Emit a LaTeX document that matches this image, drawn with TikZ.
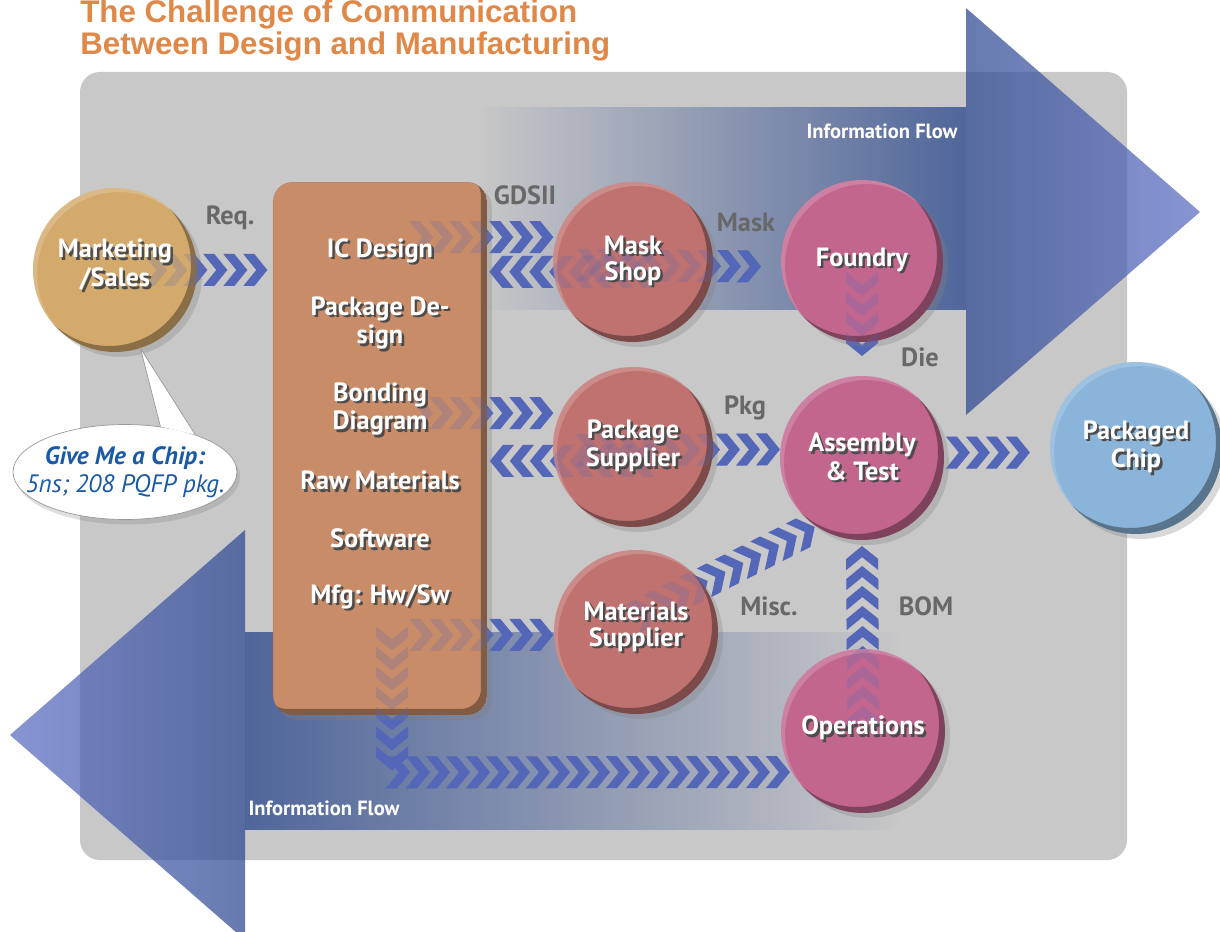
\documentclass[tikz,border=0pt]{standalone}
\usepackage{fontspec}
\usetikzlibrary{calc,shapes.geometric,shadows,fadings,decorations.markings}

\newfontfamily\ptsans{PT Sans}
\newfontfamily\heros{Liberation Sans}

\definecolor{bggray}{RGB}{200,200,200}
\definecolor{titleor}{RGB}{224,136,72}
\definecolor{mktcol}{RGB}{212,170,108}
\definecolor{designcol}{RGB}{201,140,104}
\definecolor{maskcol}{RGB}{192,114,112}
\definecolor{foundcol}{RGB}{194,102,142}
\definecolor{chipcol}{RGB}{138,180,218}
\definecolor{chevblue}{RGB}{84,102,184}
\definecolor{labgray}{RGB}{104,104,104}
\definecolor{inkblue}{RGB}{26,90,165}
\definecolor{arrowblue}{RGB}{40,70,140}
\definecolor{headdark}{RGB}{45,72,145}
\definecolor{headlight}{RGB}{90,108,196}

\pgfdeclarelayer{back}
\pgfdeclarelayer{flow}
\pgfdeclarelayer{fade}
\pgfdeclarelayer{front}
\pgfsetlayers{back,flow,main,fade,front}

\tikzfading[name=fadeleft, left color=transparent!100, right color=transparent!0]
\tikzfading[name=faderight, left color=transparent!0, right color=transparent!100]

\newcommand\txsh[1]{\leavevmode\rlap{\kern1.4pt\raisebox{-1.4pt}{\color{black!70}#1}}#1}

\tikzset{
  disc/.style={circle, inner sep=0pt, minimum size=#1,
    drop shadow={shadow xshift=0.1cm, shadow yshift=-0.1cm, opacity=0.3},
    path picture={
      \fill[black, opacity=0.35, even odd rule]
        let \p1=(path picture bounding box.east), \p2=(path picture bounding box.center) in
        (\p2) circle [radius=\x1-\x2+1pt] ([shift={(-0.12cm,0.12cm)}]\p2) circle [radius=\x1-\x2];
      \fill[white, opacity=0.18, even odd rule]
        let \p1=(path picture bounding box.east), \p2=(path picture bounding box.center) in
        (\p2) circle [radius=\x1-\x2+1pt] ([shift={(0.08cm,-0.08cm)}]\p2) circle [radius=\x1-\x2];
    }},
  box/.style={rectangle, rounded corners=0.4cm, inner sep=0pt,
    drop shadow={shadow xshift=0.1cm, shadow yshift=-0.1cm, opacity=0.3},
    path picture={
      \fill[black, opacity=0.35, even odd rule]
        (path picture bounding box.south west) rectangle (path picture bounding box.north east)
        ([shift={(-0.12cm,0.12cm)}]path picture bounding box.south west) rectangle
        ([shift={(-0.12cm,0.12cm)}]path picture bounding box.north east);
    }},
  disctext/.style={text=white, align=center, inner sep=0pt,
    font=\ptsans\bfseries\fontsize{15}{14.8}\selectfont},
  lab/.style={text=labgray, font=\ptsans\bfseries\fontsize{15}{15}\selectfont},
  flowlab/.style={text=white, font=\ptsans\bfseries\fontsize{11.7}{11.7}\selectfont},
  chevrow/.style={decoration={markings,
      mark=between positions 0 and 1 step 0.4cm with
        {\fill[chevblue, fill opacity=#1] (-24,16) -- (-13,16) -- (0,0) -- (-13,-16) -- (-24,-16) -- (-11,0) -- cycle;}},
    decorate},
}

\begin{document}
\begin{tikzpicture}[x=0.02cm, y=-0.02cm]
\useasboundingbox (0,0) rectangle (1220,932);

% panel and the two big information-flow arrows
\begin{pgfonlayer}{back}
\fill[white] (0,0) rectangle (1220,932);
\fill[bggray, rounded corners=0.4cm] (80,72) rectangle (1127,860);
\fill[arrowblue, fill opacity=0.75, path fading=fadeleft] (480,107) rectangle (966,310);
\shade[left color=headdark, right color=headlight, opacity=0.72] (966,8) -- (1200,212) -- (966,415) -- cycle;
\fill[arrowblue, fill opacity=0.75, path fading=faderight] (245,632) rectangle (900,830);
\shade[left color=headlight, right color=headdark, opacity=0.72] (245,530) -- (10,735) -- (245,940) -- cycle;
\end{pgfonlayer}

% title
\node[anchor=base west, inner sep=0pt, text=titleor, font=\heros\bfseries\fontsize{17.8}{20}\selectfont] (title1) at (80,23) {The Challenge of Communication};
\node[anchor=base west, inner sep=0pt, text=titleor, font=\heros\bfseries\fontsize{17.8}{20}\selectfont] (title2) at (80,55) {Between Design and Manufacturing};

% nodes
\node[disc=3.28cm, fill=mktcol] (mkt) at (115,270) {};
\node[box, fill=designcol, minimum width=4.28cm, minimum height=10.66cm] (design) at (380,448.5) {};
\node[disc=3.2cm, fill=maskcol] (mask) at (633,262) {};
\node[disc=3.24cm, fill=foundcol] (foundry) at (862,261) {};
\node[disc=3.2cm, fill=maskcol] (pkgsup) at (633,447) {};
\node[disc=3.28cm, fill=foundcol] (assembly) at (862,458) {};
\node[disc=3.44cm, fill=chipcol] (pkgchip) at (1136,448) {};
\node[disc=3.28cm, fill=maskcol] (mats) at (636,632) {};
\node[disc=3.28cm, fill=foundcol] (ops) at (863,731) {};

% speech bubble
\node[ellipse, draw=black!40, fill=white, minimum width=4.48cm, minimum height=1.9cm,
  drop shadow={shadow xshift=0.06cm, shadow yshift=-0.1cm, opacity=0.25}] (bubble) at (125,472) {};
\fill[white] (bubble.52) -- (mkt.-72) -- (bubble.28) -- cycle;
\draw[black!40] (bubble.52) -- (mkt.-72) -- (bubble.28);
\node[align=center, text=inkblue, font=\ptsans\itshape\fontsize{14.3}{15.6}\selectfont] (bubbletxt) at (bubble) {\textbf{Give Me a Chip:}\\5ns; 208 PQFP pkg.};

% chevron connectors, full and faded over the nodes
\foreach \lay/\op in {flow/1, fade/0.22} {
\begin{pgfonlayer}{\lay}
\path[chevrow=\op] ($(mkt.east)+(-30,0)$) -- (mkt.east -| design.west);
\path[chevrow=\op] ($(design.east |- mask.162)+(-54,0)$) -- (mask.162);
\path[chevrow=\op] ($(mask.187)+(76,0)$) -- (design.east |- mask.187);
\path[chevrow=\op] ($(mask.center)+(-32,3)$) -- (foundry.184);
\path[chevrow=\op] ($(foundry.center)+(0,35)$) -- (assembly.north);
\path[chevrow=\op] ($(design.east |- pkgsup.155)+(-54,0)$) -- (pkgsup.155);
\path[chevrow=\op] ($(pkgsup.190)+(76,0)$) -- (design.east |- pkgsup.190);
\path[chevrow=\op] ($(pkgsup.center)+(-33,3)$) -- (assembly.174);
\path[chevrow=\op] ($(assembly.east |- pkgchip.183)+(25.5,0)$) -- (pkgchip.183);
\path[chevrow=\op] ($(design.east |- mats.182)+(-54,0)$) -- (mats.182);
\path[chevrow=\op] ($(mats.center)+(18,-24)$) -- (assembly.236);
\path[chevrow=\op] ($(ops.center)+(0,-25)$) -- (assembly.south);
\path[chevrow=\op] ($(design.south)+(12,-65)$) -- ($(design.south)+(12,57)$) -- (ops.210);
\end{pgfonlayer}
}

% texts on top
\begin{pgfonlayer}{front}
\node[disctext] (mkttxt) at ($(mkt)+(0,-4)$) {\txsh{Marketing}\\\txsh{/Sales}};
\node[disctext] (icd) at (380,252) {\txsh{IC Design}};
\node[disctext] (pkgd) at (380,324) {\txsh{Package De-}\\\txsh{sign}};
\node[disctext] (bond) at (380,410) {\txsh{Bonding}\\\txsh{Diagram}};
\node[disctext] (raw) at (380,482) {\txsh{Raw Materials}};
\node[disctext] (soft) at (380,540) {\txsh{Software}};
\node[disctext] (mfg) at (380,598) {\txsh{Mfg: Hw/Sw}};
\node[disctext] (masktxt) at (mask) {\txsh{Mask}\\\txsh{Shop}};
\node[disctext] (foundtxt) at (foundry) {\txsh{Foundry}};
\node[disctext] (pkgtxt) at (pkgsup) {\txsh{Package}\\\txsh{Supplier}};
\node[disctext] (asmtxt) at (assembly) {\txsh{Assembly}\\\txsh{\& Test}};
\node[disctext] (chiptxt) at (pkgchip) {\txsh{Packaged}\\\txsh{Chip}};
\node[disctext] (matstxt) at ($(mats)+(0,-4)$) {\txsh{Materials}\\\txsh{Supplier}};
\node[disctext] (opstxt) at ($(ops)+(0,-2)$) {\txsh{Operations}};
\end{pgfonlayer}

% connector labels
\node[lab] (req) at (230,218) {Req.};
\node[lab] (gds) at (525,195) {GDSII};
\node[lab] (masklab) at (746,222) {Mask};
\node[lab] (die) at (920,357) {Die};
\node[lab] (pkg) at (745,408) {Pkg};
\node[lab] (misc) at (769,606) {Misc.};
\node[lab] (bom) at (926,606) {BOM};
\node[flowlab] (flowtop) at (882,131) {Information Flow};
\node[flowlab] (flowbot) at (324,808) {Information Flow};
\end{tikzpicture}
\end{document}
